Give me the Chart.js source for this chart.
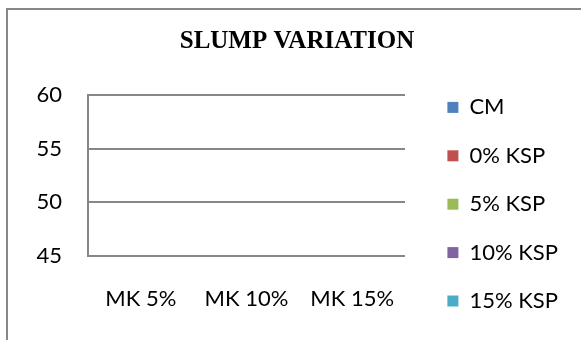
<!DOCTYPE html>
<html>
<head>
<meta charset="utf-8">
<script src="https://cdn.jsdelivr.net/npm/chart.js@4.4.0/dist/chart.umd.min.js"></script>
<style>
  html, body { margin: 0; padding: 0; background: #ffffff; }
  canvas { display: block; }
</style>
</head>
<body>
<canvas id="slump" width="581" height="340"></canvas>
<script>
// Mix categories and series
const categories = ['MK 5%', 'MK 10%', 'MK 15%'];
const seriesNames = ['CM', '0% KSP', '5% KSP', '10% KSP', '15% KSP'];

// Slump readings per series: no bar reaches into the 45–60 window that is shown
const cmValues     = [null, null, null];
const ksp0Values   = [null, null, null];
const ksp5Values   = [null, null, null];
const ksp10Values  = [null, null, null];
const ksp15Values  = [null, null, null];

// Value axis ticks
const yTicks = [45, 50, 55, 60];

const seriesValues = [cmValues, ksp0Values, ksp5Values, ksp10Values, ksp15Values];
const seriesColors = ['#4F81BD', '#C0504D', '#9BBB59', '#8064A2', '#4BACC6'];

const GRID = '#878787';
const LABEL_FONT = 22;
const LEGEND_PAD = 26.4;
const BOX = 11;

// Size the right-hand legend column so its swatches line up at a fixed x
const mctx = document.createElement('canvas').getContext('2d');
mctx.font = LABEL_FONT + 'px Lato';
const widest = Math.max(...seriesNames.map(t => mctx.measureText(t).width));
const legendWidth = LEGEND_PAD + BOX + LABEL_FONT / 2 + widest + 10;
const legendLeft = 421;
const padRight = 581 - legendLeft - legendWidth;
const padLeft = padRight + 13;

// Chart border (left and top edges of the frame)
const framePlugin = {
  id: 'frame',
  beforeDraw(chart) {
    const c = chart.ctx;
    c.save();
    c.fillStyle = '#ffffff';
    c.fillRect(0, 0, chart.width, chart.height);
    c.strokeStyle = GRID;
    c.lineWidth = 2;
    c.beginPath();
    c.moveTo(7, chart.height);
    c.lineTo(7, 9);
    c.lineTo(chart.width, 9);
    c.stroke();
    c.restore();
  }
};

new Chart(document.getElementById('slump'), {
  type: 'bar',
  data: {
    labels: categories,
    datasets: seriesNames.map((name, i) => ({
      label: name,
      data: seriesValues[i],
      backgroundColor: seriesColors[i],
      borderWidth: 0
    }))
  },
  options: {
    responsive: false,
    devicePixelRatio: 1,
    animation: false,
    layout: { padding: { left: padLeft, right: padRight, top: 0, bottom: 0 } },
    plugins: {
      title: {
        display: true,
        text: 'SLUMP VARIATION',
        color: '#000000',
        font: { family: 'Liberation Serif', size: 25, weight: 'bold' },
        padding: { top: 27, bottom: 38 }
      },
      legend: {
        display: true,
        position: 'right',
        align: 'start',
        maxWidth: 300,
        title: { display: true, text: '', font: { size: 10 }, padding: { top: 58, bottom: 0 } },
        labels: {
          color: '#000000',
          font: { family: 'Lato', size: LABEL_FONT },
          boxWidth: BOX,
          boxHeight: BOX,
          padding: LEGEND_PAD
        }
      },
      tooltip: { enabled: false }
    },
    scales: {
      x: {
        type: 'category',
        offset: true,
        grid: { display: false, drawTicks: false },
        border: { display: false },
        ticks: {
          color: '#000000',
          font: { family: 'Lato', size: LABEL_FONT },
          padding: 30,
          maxRotation: 0,
          autoSkip: false
        },
        afterFit(scale) { scale.height = 84; }
      },
      y: {
        position: 'left',
        min: yTicks[0],
        max: yTicks[yTicks.length - 1],
        grid: { color: GRID, lineWidth: 2, drawTicks: false },
        border: { display: true, color: GRID, width: 2 },
        ticks: {
          stepSize: yTicks[1] - yTicks[0],
          color: '#000000',
          font: { family: 'Lato', size: LABEL_FONT },
          padding: 26
        },
        afterFit(scale) { scale.width = 88 - padLeft; }
      },
      yRight: {
        position: 'right',
        display: true,
        grid: { display: false, drawTicks: false },
        border: { display: false },
        ticks: { display: false },
        afterFit(scale) { scale.width = 16; }
      }
    }
  },
  plugins: [framePlugin]
});
</script>
</body>
</html>
